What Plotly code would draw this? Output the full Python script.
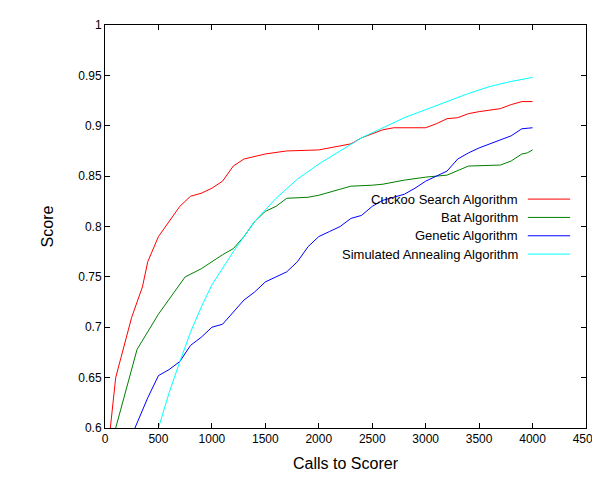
import plotly.graph_objects as go

cs_x = [50,100,150,250,350,400,500,600,700,800,900,1000,1100,1200,1300,1500,1700,2000,2100,2300,2400,2600,2700,3000,3100,3200,3300,3400,3500,3700,3800,3900,4000]
cs_y = [0.6,0.65,0.67,0.71,0.74,0.765,0.79,0.805,0.82,0.83,0.833,0.838,0.845,0.86,0.867,0.872,0.875,0.876,0.878,0.882,0.888,0.896,0.898,0.898,0.902,0.907,0.908,0.912,0.914,0.917,0.921,0.924,0.924]
bat_x = [100,300,500,750,900,1000,1100,1200,1300,1400,1500,1600,1700,1900,2000,2200,2300,2500,2600,2800,3000,3200,3400,3700,3800,3900,3950,4000]
bat_y = [0.6,0.678,0.713,0.75,0.758,0.765,0.772,0.778,0.79,0.805,0.815,0.82,0.828,0.829,0.831,0.837,0.84,0.841,0.842,0.846,0.849,0.851,0.86,0.861,0.865,0.872,0.873,0.876]
ga_x = [280,400,500,600,700,800,900,1000,1100,1200,1300,1400,1500,1700,1800,1900,2000,2100,2200,2300,2400,2500,2600,2800,2900,3000,3100,3200,3300,3400,3500,3600,3700,3800,3900,4000]
ga_y = [0.6,0.63,0.652,0.658,0.666,0.682,0.69,0.7,0.703,0.715,0.727,0.735,0.745,0.755,0.765,0.78,0.79,0.795,0.8,0.808,0.811,0.82,0.826,0.832,0.838,0.845,0.85,0.855,0.867,0.873,0.878,0.882,0.886,0.89,0.897,0.898]
sa_x = [500,600,700,800,900,1000,1200,1400,1600,1800,2000,2200,2400,2600,2800,3000,3200,3400,3600,3800,4000]
sa_y = [0.6,0.635,0.666,0.695,0.72,0.742,0.775,0.805,0.828,0.847,0.862,0.875,0.888,0.898,0.908,0.916,0.924,0.932,0.939,0.944,0.948]

series = [("Cuckoo Search Algorithm", cs_x, cs_y, "#ff0000"),
          ("Bat Algorithm", bat_x, bat_y, "#008000"),
          ("Genetic Algorithm", ga_x, ga_y, "#0000ff"),
          ("Simulated Annealing Algorithm", sa_x, sa_y, "#00ffff")]

fig = go.Figure()
ann, shp = [], []
for i, (name, x, y, c) in enumerate(series):
    fig.add_trace(go.Scatter(x=x, y=y, mode="lines", name=name, line=dict(color=c, width=1), showlegend=False))
    ly = 0.568 - i * 0.0455
    ann.append(dict(xref="paper", yref="paper", x=0.863, y=ly, text=name, showarrow=False, xanchor="right", yanchor="middle", font=dict(size=13, color="black")))
    shp.append(dict(type="line", xref="paper", yref="paper", x0=0.879, x1=0.967, y0=ly, y1=ly, line=dict(color=c, width=1)))

ax = dict(showline=True, mirror="ticks", linecolor="black", linewidth=1, ticks="inside", ticklen=5, tickcolor="black", showgrid=False, zeroline=False, automargin=False, tickfont=dict(size=12, color="black"))
fig.update_layout(
    width=600, height=480, plot_bgcolor="white", paper_bgcolor="white",
    margin=dict(l=97, r=22, t=17, b=60),
    font=dict(family="Liberation Sans, Arial", size=13, color="black"),
    xaxis=dict(range=[0, 4500], dtick=500, title=dict(text="Calls to Scorer", standoff=12), **ax),
    yaxis=dict(range=[0.6, 1], dtick=0.05, title=dict(text="Score", standoff=20), **ax),
    annotations=ann, shapes=shp,
)
fig.write_html("out.html")
